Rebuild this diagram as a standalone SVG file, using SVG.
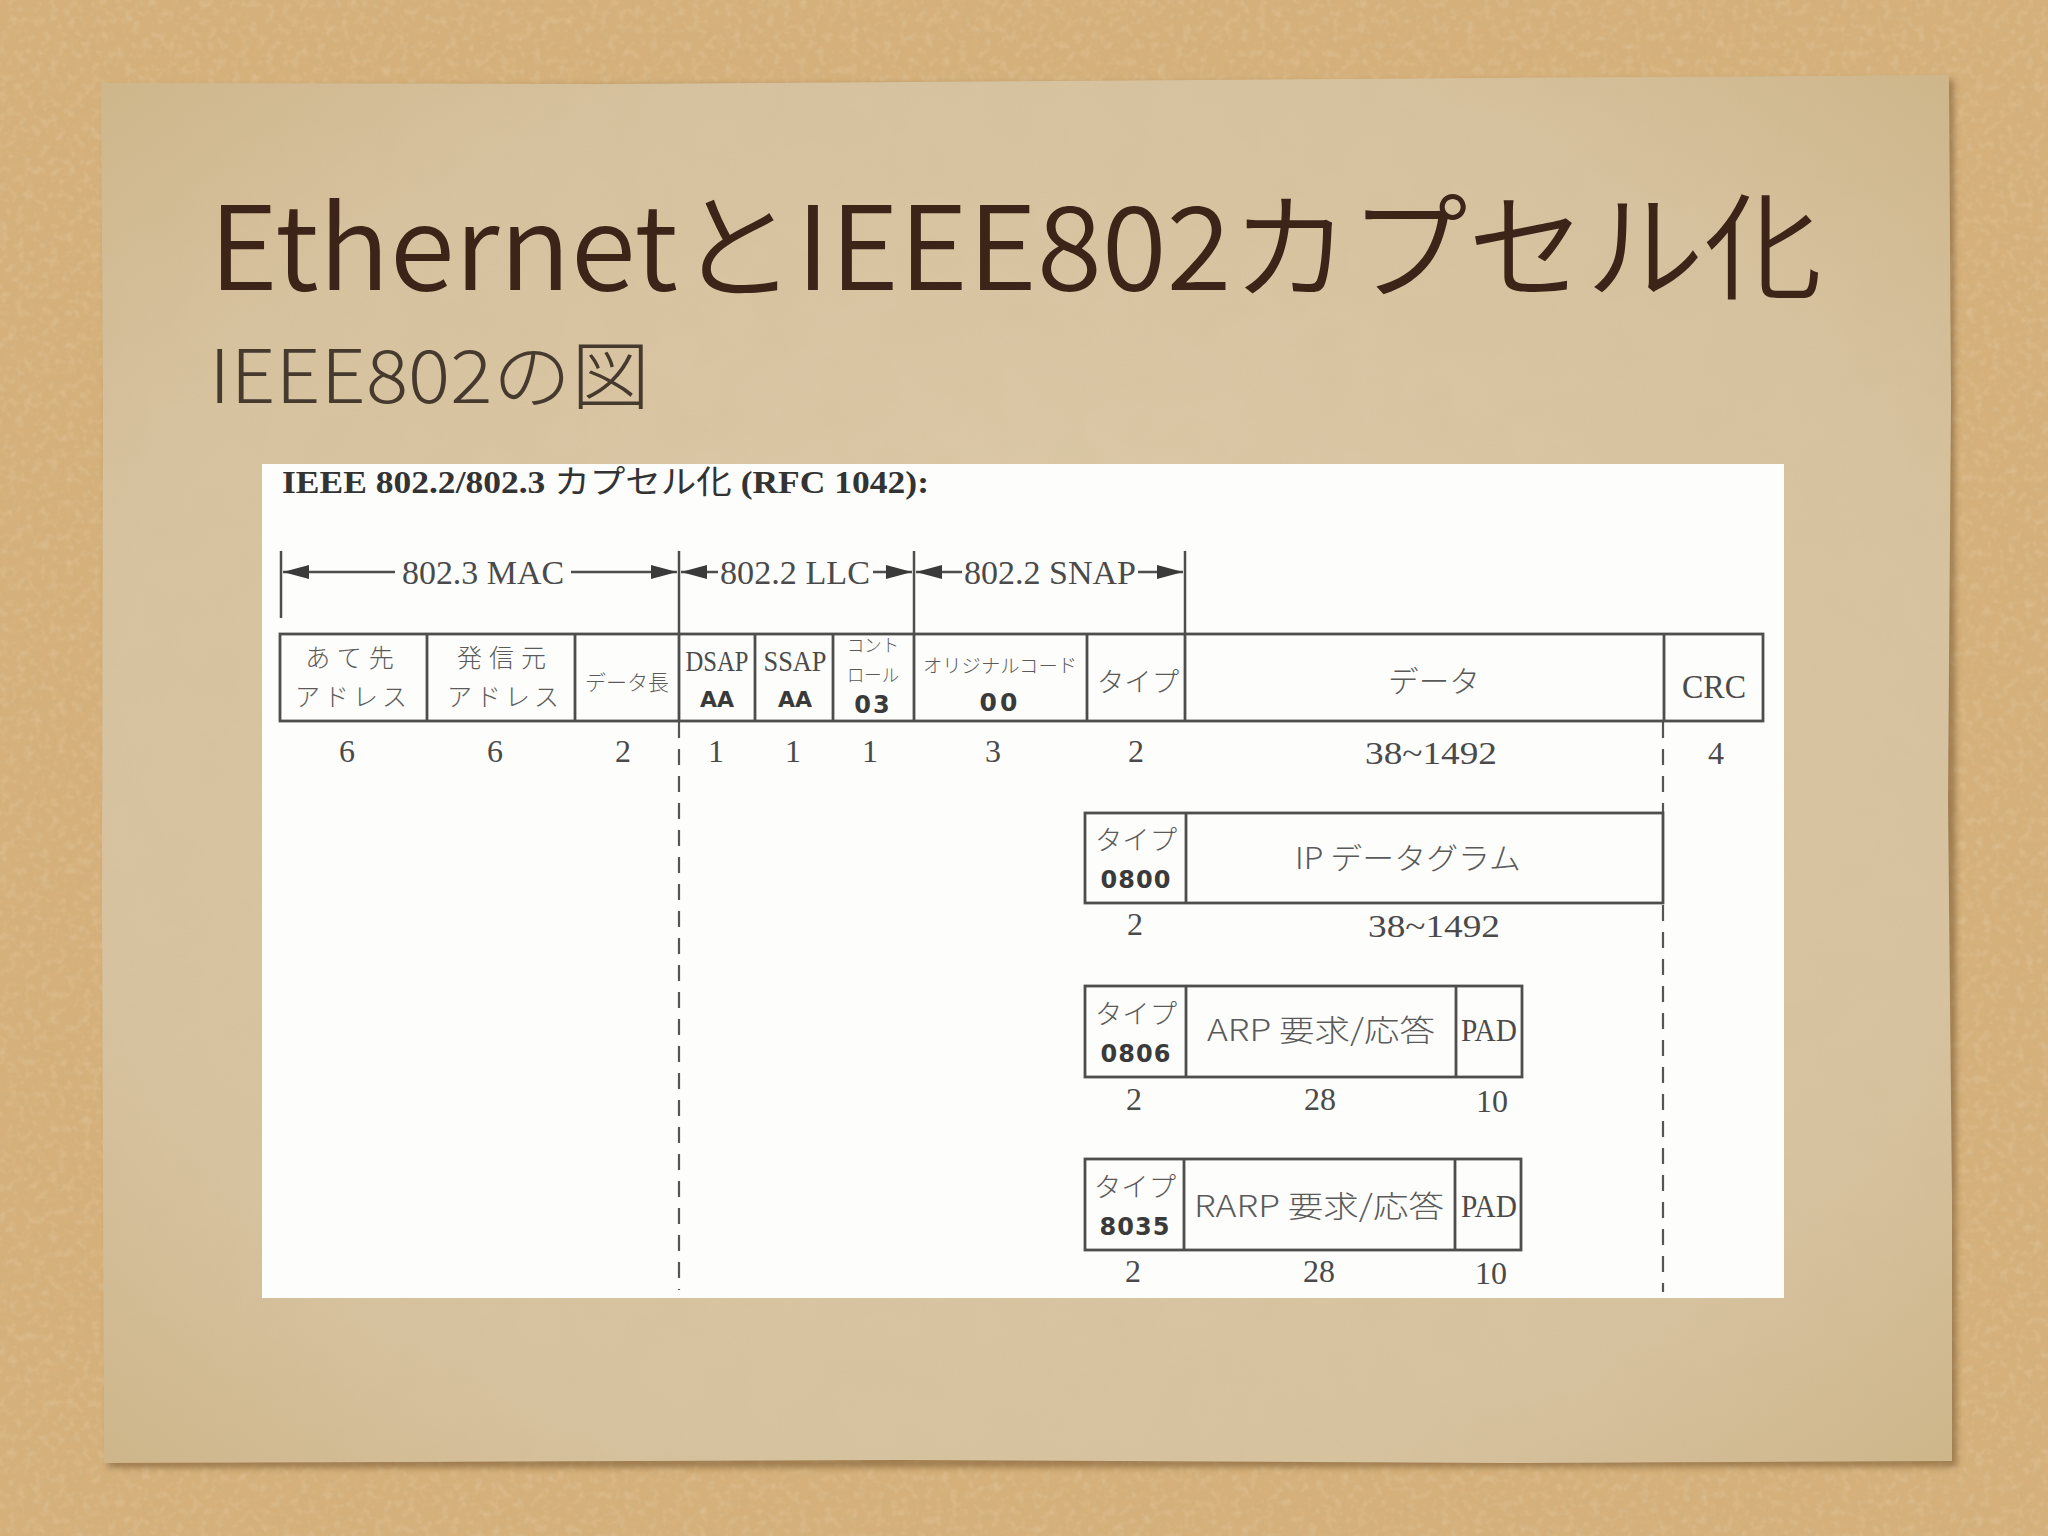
<svg xmlns="http://www.w3.org/2000/svg" width="2048" height="1536" viewBox="0 0 2048 1536">
<style>
.title{font-family:"Noto Sans CJK JP","Noto Sans",sans-serif;font-weight:350;fill:#3d2419}
.sub{font-family:"Noto Sans CJK JP","Noto Sans",sans-serif;font-weight:300;fill:#46392e}
.hdr{font-family:"Liberation Serif","Noto Sans CJK JP",serif;font-weight:700;fill:#333}
.hdrjp{font-family:"Noto Sans CJK JP",sans-serif;font-weight:400}
.ser{font-family:"Liberation Serif","Noto Sans CJK JP",serif;fill:#4a4a4a}
.jp{font-family:"Noto Sans CJK JP",sans-serif;font-weight:300;fill:#5a5a5a}
.bold{font-family:"DejaVu Sans","Liberation Sans",sans-serif;font-weight:700;fill:#3a3a3a}
.ln{stroke:#4e4e4e;stroke-width:2.5;fill:none}
.box{stroke:#4e4e4e;stroke-width:2.8;fill:none}
.dash{stroke:#555;stroke-width:2.2;stroke-dasharray:16 11;fill:none}
</style>
<defs>
<filter id="corkTex" x="0" y="0" width="100%" height="100%">
<feTurbulence type="fractalNoise" baseFrequency="0.14" numOctaves="3" seed="4"/>
<feColorMatrix type="matrix" values="0 0 0 0 0.62 0 0 0 0 0.44 0 0 0 0 0.22 0 0 0 2.2 -1.0"/>
</filter>
<filter id="corkLight" x="0" y="0" width="100%" height="100%">
<feTurbulence type="fractalNoise" baseFrequency="0.12" numOctaves="2" seed="11"/>
<feColorMatrix type="matrix" values="0 0 0 0 0.9 0 0 0 0 0.78 0 0 0 0 0.58 0 0 0 1.8 -0.85"/>
</filter>
<filter id="paperTex" x="0" y="0" width="100%" height="100%">
<feTurbulence type="fractalNoise" baseFrequency="0.02" numOctaves="3" seed="9"/>
<feColorMatrix type="matrix" values="0 0 0 0 0.6 0 0 0 0 0.48 0 0 0 0 0.28 0 0 0 0.9 -0.35"/>
</filter>
<filter id="shadow" x="-5%" y="-5%" width="110%" height="110%">
<feGaussianBlur stdDeviation="3"/>
</filter>
<radialGradient id="paperGrad" cx="50%" cy="50%" r="75%">
<stop offset="0" stop-color="#dccaa9"/>
<stop offset="0.7" stop-color="#d7c29f"/>
<stop offset="1" stop-color="#ccb385"/>
</radialGradient>
<marker id="ah" markerUnits="userSpaceOnUse" markerWidth="28" markerHeight="16" refX="26" refY="7" orient="auto-start-reverse">
<path d="M0,0 L26,7 L0,14 z" fill="#3a3a3a"/>
</marker>
</defs>

<g id="background">
<rect x="0" y="0" width="2048" height="1536" fill="#d5b07a"/>
<rect x="0" y="0" width="2048" height="1536" filter="url(#corkTex)" opacity="0.55"/>
<rect x="0" y="0" width="2048" height="1536" filter="url(#corkLight)" opacity="0.3"/>
<polygon points="106,88 1954,80 1957,1467 108,1468" fill="#6b4a22" opacity="0.5" filter="url(#shadow)"/>
<polygon points="101,83 600,84 1200,80 1949,75 1951,400 1948,800 1952,1200 1952,1461 1500,1463 900,1460 400,1462 104,1463 102,900 103,400" fill="url(#paperGrad)"/>
<polygon points="101,83 600,84 1200,80 1949,75 1951,400 1948,800 1952,1200 1952,1461 1500,1463 900,1460 400,1462 104,1463 102,900 103,400" filter="url(#paperTex)" opacity="0.3"/>
</g>

<g id="title">
<text class="title" x="209" y="290" font-size="116" textLength="1613" lengthAdjust="spacingAndGlyphs">EthernetとIEEE802カプセル化</text>
<text class="sub" x="209" y="403" font-size="74" textLength="441" lengthAdjust="spacingAndGlyphs">IEEE802の図</text>
</g>

<g id="figure">
<rect x="262" y="464" width="1522" height="834" fill="#fdfdfc"/>
<text class="hdr" x="282" y="493" font-size="32" textLength="647" lengthAdjust="spacingAndGlyphs">IEEE 802.2/802.3 <tspan class="hdrjp">カプセル化</tspan> (RFC 1042):</text>
</g>

<g id="connectors">
<line class="ln" x1="281" y1="551" x2="281" y2="618"/>
<line class="ln" x1="679" y1="551" x2="679" y2="633"/>
<line class="ln" x1="914" y1="551" x2="914" y2="633"/>
<line class="ln" x1="1185" y1="551" x2="1185" y2="633"/>
<line class="ln" x1="283" y1="572" x2="395" y2="572" marker-start="url(#ah)"/>
<line class="ln" x1="571" y1="572" x2="677" y2="572" marker-end="url(#ah)"/>
<line class="ln" x1="681" y1="572" x2="718" y2="572" marker-start="url(#ah)"/>
<line class="ln" x1="873" y1="572" x2="912" y2="572" marker-end="url(#ah)"/>
<line class="ln" x1="916" y1="572" x2="962" y2="572" marker-start="url(#ah)"/>
<line class="ln" x1="1138" y1="572" x2="1183" y2="572" marker-end="url(#ah)"/>
<line class="dash" x1="679" y1="722" x2="679" y2="1290"/>
<line class="dash" x1="1663" y1="722" x2="1663" y2="812"/>
<line class="dash" x1="1663" y1="905" x2="1663" y2="1292"/>
</g>

<g id="bracket-labels">
<text class="ser" x="483" y="584" font-size="34" text-anchor="middle" textLength="162" lengthAdjust="spacingAndGlyphs">802.3 MAC</text>
<text class="ser" x="795" y="584" font-size="34" text-anchor="middle" textLength="150" lengthAdjust="spacingAndGlyphs">802.2 LLC</text>
<text class="ser" x="1050" y="584" font-size="34" text-anchor="middle" textLength="172" lengthAdjust="spacingAndGlyphs">802.2 SNAP</text>
</g>

<g id="frame-main">
<rect class="box" x="280" y="634" width="1483" height="87"/>
<line class="box" x1="427" y1="634" x2="427" y2="721"/>
<line class="box" x1="575" y1="634" x2="575" y2="721"/>
<line class="box" x1="679" y1="634" x2="679" y2="721"/>
<line class="box" x1="755" y1="634" x2="755" y2="721"/>
<line class="box" x1="833" y1="634" x2="833" y2="721"/>
<line class="box" x1="914" y1="634" x2="914" y2="721"/>
<line class="box" x1="1087" y1="634" x2="1087" y2="721"/>
<line class="box" x1="1185" y1="634" x2="1185" y2="721"/>
<line class="box" x1="1664" y1="634" x2="1664" y2="721"/>
</g>

<g id="cell-dst">
<text class="jp" x="353" y="667" font-size="25" text-anchor="middle" letter-spacing="7">あて先</text>
<text class="jp" x="353" y="706" font-size="25" text-anchor="middle" letter-spacing="4">アドレス</text>
</g>
<g id="cell-src">
<text class="jp" x="505" y="667" font-size="25" text-anchor="middle" letter-spacing="7">発信元</text>
<text class="jp" x="505" y="706" font-size="25" text-anchor="middle" letter-spacing="4">アドレス</text>
</g>
<g id="cell-len">
<text class="jp" x="627" y="690" font-size="21" text-anchor="middle" textLength="84" lengthAdjust="spacingAndGlyphs">データ長</text>
</g>
<g id="cell-dsap">
<text class="ser" x="717" y="671" font-size="30" text-anchor="middle" textLength="63" lengthAdjust="spacingAndGlyphs">DSAP</text>
<text class="bold" x="717" y="707" font-size="22" text-anchor="middle">AA</text>
</g>
<g id="cell-ssap">
<text class="ser" x="795" y="671" font-size="30" text-anchor="middle" textLength="63" lengthAdjust="spacingAndGlyphs">SSAP</text>
<text class="bold" x="795" y="707" font-size="22" text-anchor="middle">AA</text>
</g>
<g id="cell-ctrl">
<text class="jp" x="873" y="652" font-size="18" text-anchor="middle" textLength="52" lengthAdjust="spacingAndGlyphs">コント</text>
<text class="jp" x="873" y="682" font-size="18" text-anchor="middle" textLength="52" lengthAdjust="spacingAndGlyphs">ロール</text>
<text class="bold" x="873" y="713" font-size="24" text-anchor="middle" letter-spacing="2">03</text>
</g>
<g id="cell-oui">
<text class="jp" x="1000" y="673" font-size="19" text-anchor="middle" textLength="154" lengthAdjust="spacingAndGlyphs">オリジナルコード</text>
<text class="bold" x="1000" y="711" font-size="25" text-anchor="middle" letter-spacing="3">00</text>
</g>
<g id="cell-type">
<text class="jp" x="1138" y="692" font-size="27" text-anchor="middle" textLength="82" lengthAdjust="spacingAndGlyphs">タイプ</text>
</g>
<g id="cell-data">
<text class="jp" x="1434" y="692" font-size="30" text-anchor="middle" textLength="92" lengthAdjust="spacingAndGlyphs">データ</text>
</g>
<g id="cell-crc">
<text class="ser" x="1714" y="698" font-size="34" text-anchor="middle" textLength="64" lengthAdjust="spacingAndGlyphs">CRC</text>
</g>

<g id="sizes-main" class="ser" font-size="32" text-anchor="middle">
<text x="347" y="762">6</text>
<text x="495" y="762">6</text>
<text x="623" y="762">2</text>
<text x="716" y="762">1</text>
<text x="793" y="762">1</text>
<text x="870" y="762">1</text>
<text x="993" y="762">3</text>
<text x="1136" y="762">2</text>
<text x="1431" y="764" textLength="132" lengthAdjust="spacingAndGlyphs">38~1492</text>
<text x="1716" y="764">4</text>
</g>

<g id="frame-ip">
<rect class="box" x="1085" y="813" width="578" height="90"/>
<line class="box" x1="1186" y1="813" x2="1186" y2="903"/>
<text class="jp" x="1136" y="850" font-size="27" text-anchor="middle" textLength="82" lengthAdjust="spacingAndGlyphs">タイプ</text>
<text class="bold" x="1136" y="888" font-size="24" text-anchor="middle" letter-spacing="1">0800</text>
<text class="jp" x="1408" y="869" font-size="30" text-anchor="middle" textLength="226" lengthAdjust="spacingAndGlyphs">IP データグラム</text>
<text class="ser" x="1135" y="935" font-size="32" text-anchor="middle">2</text>
<text class="ser" x="1434" y="937" font-size="32" text-anchor="middle" textLength="132" lengthAdjust="spacingAndGlyphs">38~1492</text>
</g>

<g id="frame-arp">
<rect class="box" x="1085" y="986" width="437" height="91"/>
<line class="box" x1="1186" y1="986" x2="1186" y2="1077"/>
<line class="box" x1="1456" y1="986" x2="1456" y2="1077"/>
<text class="jp" x="1136" y="1024" font-size="27" text-anchor="middle" textLength="82" lengthAdjust="spacingAndGlyphs">タイプ</text>
<text class="bold" x="1136" y="1062" font-size="24" text-anchor="middle" letter-spacing="1">0806</text>
<text class="jp" x="1321" y="1041" font-size="30" text-anchor="middle" textLength="228" lengthAdjust="spacingAndGlyphs">ARP 要求/応答</text>
<text class="ser" x="1489" y="1041" font-size="32" text-anchor="middle" textLength="56" lengthAdjust="spacingAndGlyphs">PAD</text>
<text class="ser" x="1134" y="1110" font-size="32" text-anchor="middle">2</text>
<text class="ser" x="1320" y="1110" font-size="32" text-anchor="middle">28</text>
<text class="ser" x="1492" y="1112" font-size="32" text-anchor="middle">10</text>
</g>

<g id="frame-rarp">
<rect class="box" x="1085" y="1159" width="436" height="91"/>
<line class="box" x1="1184" y1="1159" x2="1184" y2="1250"/>
<line class="box" x1="1455" y1="1159" x2="1455" y2="1250"/>
<text class="jp" x="1135" y="1197" font-size="27" text-anchor="middle" textLength="82" lengthAdjust="spacingAndGlyphs">タイプ</text>
<text class="bold" x="1135" y="1235" font-size="24" text-anchor="middle" letter-spacing="1">8035</text>
<text class="jp" x="1319" y="1217" font-size="30" text-anchor="middle" textLength="250" lengthAdjust="spacingAndGlyphs">RARP 要求/応答</text>
<text class="ser" x="1489" y="1217" font-size="32" text-anchor="middle" textLength="56" lengthAdjust="spacingAndGlyphs">PAD</text>
<text class="ser" x="1133" y="1282" font-size="32" text-anchor="middle">2</text>
<text class="ser" x="1319" y="1282" font-size="32" text-anchor="middle">28</text>
<text class="ser" x="1491" y="1284" font-size="32" text-anchor="middle">10</text>
</g>
</svg>
